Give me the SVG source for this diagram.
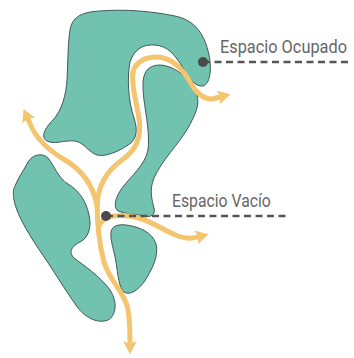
<svg xmlns="http://www.w3.org/2000/svg" width="354" height="358" viewBox="0 0 354 358">
<defs>
<style>
.mass{fill:#71c2af;stroke:#3f5a54;stroke-width:1;stroke-linejoin:round}
.flow{fill:none;stroke:#f4c46e;stroke-width:5;stroke-linecap:round;stroke-linejoin:round}
.lead{fill:none;stroke:#555;stroke-width:2.5;stroke-dasharray:7 4.5}
.dot{fill:#4a4a4a}
.lbl{font-family:"Roboto","Liberation Sans",sans-serif;font-size:19px;fill:#666}
</style>
<marker id="ah" markerUnits="userSpaceOnUse" markerWidth="13" markerHeight="14" viewBox="0 0 13 14" refX="2" refY="7" orient="auto">
<path d="M0,0 L13,7 L0,14 L3,7 Z" fill="#f4c46e"/>
</marker>
</defs>
<rect width="354" height="358" fill="#fff"/>
<g id="shape-a"><path class="mass" d="M70,30 C72,18 80,12 100,11 C125,9 150,11 175,16 C195,20 205,35 209,55 C212,70 210,84 203,86 C196,87 190,80 183,68 C175,55 168,46 155,45 C142,44 134,50 130,62 C127,78 128,100 134,118 C138,130 137,140 128,145 C118,152 105,157 97,155 C88,152 85,143 75,141 C62,140 55,145 47,141 C40,137 45,128 53,120 C62,110 66,95 67,80 C68,60 68,42 70,30 Z"/></g>
<g id="shape-c"><path class="mass" d="M143,82 C144,70 150,65 160,65 C176,66 192,80 197,95 C200,105 195,115 188,128 C178,145 162,160 154,178 C149,190 152,200 154,208 C156,215 150,218 144,216 C135,214 125,214 118,211 C113,207 115,198 122,188 C132,175 145,165 148,150 C150,135 146,115 144,100 C143,92 143,88 143,82 Z"/></g>
<g id="shape-b"><path class="mass" d="M15,186 C18,178 24,170 28,162 C32,155 42,152 48,158 C54,165 58,178 68,184 C78,190 86,200 89,215 C92,228 88,238 80,242 C72,246 68,252 74,258 C82,264 100,276 110,290 C118,302 116,316 108,320 C98,324 86,318 78,308 C65,290 52,268 38,248 C26,230 16,212 14,200 C13,193 13,190 15,186 Z"/></g>
<g id="shape-e"><path class="mass" d="M111,232 C112,226 118,224 126,225 C140,227 152,232 156,244 C159,256 152,270 144,282 C138,290 130,296 124,292 C119,288 118,275 116,262 C114,250 110,240 111,232 Z"/></g>
<g id="connectors">
<path class="flow" marker-end="url(#ah)" d="M97,205 C98,185 108,170 122,160 C136,150 142,138 139,118 C136,100 131,85 133,72 C136,61 145,57 158,57 C172,58 182,68 190,82 C196,92 202,99 212,99 L220,97"/>
<path class="flow" marker-end="url(#ah)" d="M97,205 C93,185 82,170 65,160 C48,150 38,140 32,128 L28,119"/>
<path class="flow" marker-end="url(#ah)" d="M97,200 C97,215 98,240 104,262 C110,282 125,292 128,310 C130,322 130,332 130,343"/>
<path class="flow" marker-end="url(#ah)" d="M99,226 C103,217 112,214 130,216 C150,219 162,230 178,236 C188,240 194,238 198,237"/>
</g>
<g id="label-ocupado">
<line class="lead" x1="203" y1="62" x2="352" y2="62"/>
<circle class="dot" cx="203" cy="62" r="5"/>
<text class="lbl" transform="matrix(0.86,0,0,1,220,53)">Espacio Ocupado</text>
</g>
<g id="label-vacio">
<line class="lead" x1="106" y1="216" x2="288" y2="216"/>
<circle class="dot" cx="106" cy="216" r="5"/>
<text class="lbl" transform="matrix(0.83,0,0,1,172,207)">Espacio Vacío</text>
</g>
</svg>
